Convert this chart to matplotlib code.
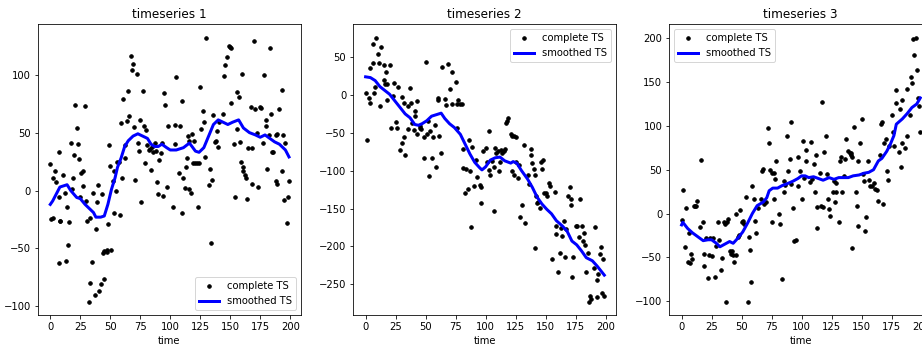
import matplotlib
matplotlib.use("Agg")
import matplotlib.pyplot as plt

# timeseries 1: raw points
t1 = [0, 2, 1, 2, 4, 5, 7, 7, 7, 8, 8, 11, 12, 13, 14, 15, 16, 17, 18, 19,
      20, 21, 22, 23, 24, 25, 26, 27, 27, 29, 30, 31, 33, 33, 32, 35, 36, 37, 38, 39,
      40, 41, 42, 43, 44, 45, 45, 47, 47, 48, 49, 50, 51, 52, 53, 53, 55, 56, 57, 58,
      59, 60, 61, 62, 62, 64, 65, 66, 67, 68, 69, 70, 71, 72, 73, 74, 75, 76, 77, 78,
      79, 80, 81, 82, 83, 84, 85, 86, 87, 88, 89, 90, 91, 92, 93, 94, 95, 96, 97, 98,
      102, 104, 104, 105, 107, 108, 110, 110, 111, 112, 113, 114, 115, 116, 116, 117, 118, 119, 120, 121,
      122, 123, 124, 125, 126, 127, 128, 129, 130, 132, 133, 134, 135, 136, 137, 138, 139, 140, 141, 144,
      145, 146, 147, 149, 150, 151, 151, 153, 154, 156, 156, 157, 158, 159, 160, 161, 161, 162, 163, 164,
      165, 167, 168, 168, 170, 171, 172, 173, 175, 176, 177, 178, 180, 180, 181, 182, 183, 184, 185, 186,
      188, 189, 188, 189, 191, 193, 193, 194, 195, 196, 197, 198, 199]
y1 = [23, 11, -25, -24, 17, 7, 33, -63, -6, -26, -26, 13, -2, -61, -14, -47, -27, 41, 1, 11,
      31, 74, 54, 40, 27, -6, 15, 17, 4, 73, -9, -26, -24, -80, -96, -62, -2, -90, -33, -10,
      5, -87, -81, -3, -54, -52, -76, -53, -51, -29, 39, 21, -51, 8, 17, -19, 0, 25, 25, -21,
      58, 11, 79, 28, 39, 60, 86, 64, 116, 104, 109, 55, 9, 101, 41, 34, 61, -10, 86, 56,
      24, 52, 39, 35, 36, 18, 38, 33, 41, 34, 7, -3, 26, 32, 41, -5, 84, 74, 3, 56,
      -14, 57, 40, 98, 15, 56, 77, -19, 11, 2, 20, 28, 47, 43, 1, -2, 49, 24, 43, 24,
      24, -14, 24, 89, 53, 69, 59, 29, 132, 5, 19, -45, 9, 65, 42, 43, 51, 38, 59, 66,
      99, 108, 115, 125, 124, 123, 76, 40, -6, 85, 53, 81, 42, 25, 101, 20, 17, 13, 11, -7,
      37, 72, 37, 6, 129, 70, 50, 3, 72, 71, 41, 100, 61, 56, 19, 48, 123, 66, 33, 33,
      8, 6, 48, 49, 70, 17, 87, 48, -8, 41, -28, -6, 8]
s1_t = [0, 2, 5, 8, 11, 14, 17, 22, 25, 29, 33, 36, 38, 42, 45, 48, 51, 54, 56, 59,
        62, 65, 69, 73, 77, 81, 84, 87, 90, 93, 97, 100, 105, 111, 116, 121, 124, 128, 132, 136,
        140, 144, 148, 152, 157, 161, 166, 171, 175, 179, 183, 187, 191, 196, 199]
s1_v = [-12, -9, -3, 3, 4, 5, 0, -6, -7, -12, -16, -19, -23, -23, -22, -12, 1, 11, 20, 28,
        38, 43, 47, 49, 47, 45, 40, 38, 38, 40, 37, 35, 35, 37, 41, 34, 33, 37, 47, 57,
        61, 59, 57, 59, 61, 54, 50, 48, 46, 48, 45, 42, 40, 35, 29]

# timeseries 2
t2 = [0, 1, 3, 4, 4, 6, 6, 7, 8, 9, 10, 11, 12, 13, 15, 15, 17, 16, 18, 18,
      20, 21, 23, 24, 25, 26, 27, 29, 30, 30, 32, 32, 33, 35, 35, 37, 38, 39, 40, 41,
      41, 43, 43, 45, 45, 46, 49, 49, 50, 51, 52, 53, 54, 55, 56, 58, 59, 60, 60, 61,
      63, 64, 66, 67, 69, 70, 72, 72, 75, 76, 76, 77, 79, 80, 81, 81, 83, 84, 87, 85,
      86, 88, 89, 90, 92, 93, 95, 96, 96, 98,
      100, 101, 103, 103, 104, 105, 107, 107, 108, 109, 110, 111, 112, 113, 114, 115, 116, 117, 118, 119,
      121, 122, 124, 125, 122, 124, 125, 127, 128, 129, 130, 132, 133, 135, 136, 138, 138, 139, 140, 141,
      141, 142, 143, 144, 145, 146, 147, 148, 149, 150, 151, 153, 154, 155, 158, 159, 159, 160, 162, 163,
      164, 165, 166, 167, 169, 170, 171, 171, 172, 173, 175, 176, 178, 179, 180, 181, 182, 183, 184, 185,
      186, 187, 188, 190, 191, 193, 193, 194, 195, 196, 197, 198, 199]
y2 = [3, -60, -4, 36, -10, 67, 42, 2, 10, 75, 54, 42, -14, 63, 40, 20, 31, 15, 15, -7,
      39, -44, -1, 16, -36, -44, 10, -73, -3, -64, -10, -56, -79, -15, -45, 9, -10, -37, -46, -21,
      -28, -51, -8, -41, -43, -45, -83, -56, 43, -52, -34, -107, -48, -83, -55, -39, -95, -7, -4, -54,
      -76, 37, -5, -13, 41, 8, -12, 31, 17, -44, -12, -7, -12, -12, -71, -97, -130, -98, -100, -124,
      -60, -174, -69, -120, -86, -108, -119, -122, -143, -74,
      -70, -88, -48, -99, -106, -87, -95, -153, -70, -77, -74, -101, -88, -73, -77, -74, -72, -37, -34, -30,
      -52, -54, -54, -55, -101, -106, -88, -110, -93, -161, -145, -66, -169, -106, -118, -79, -71, -90, -98, -106,
      -202, -134, -143, -142, -149, -88, -98, -86, -130, -129, -134, -116, -120, -217, -128, -184, -173, -234, -209, -176,
      -186, -167, -214, -177, -134, -122, -146, -137, -240, -214, -173, -173, -187, -137, -173, -193, -182, -198, -234, -209,
      -274, -265, -270, -229, -174, -245, -267, -236, -210, -201, -262, -217, -265]
s2_t = [0, 4, 8, 12, 16, 20, 24, 29, 33, 37, 41, 44, 47, 51, 55, 59, 63, 66, 70, 74,
        79, 83, 87, 91, 95, 97, 100, 104, 108, 112, 116, 121, 123, 126, 130, 135, 139, 143, 147, 151,
        155, 159, 164, 168, 172, 176, 180, 184, 189, 193, 197, 199]
s2_v = [24, 23, 19, 11, 6, 1, -7, -17, -25, -30, -39, -40, -38, -34, -28, -26, -24, -31, -38, -43,
        -52, -65, -78, -89, -96, -99, -95, -86, -83, -82, -87, -90, -88, -90, -100, -111, -122, -135, -144, -151,
        -157, -166, -173, -180, -193, -198, -206, -215, -219, -226, -234, -238]

# timeseries 3
t3 = [0, 1, 3, 4, 5, 6, 7, 8, 9, 10, 11, 12, 13, 15, 16, 18, 19, 19, 20, 22,
      23, 24, 25, 26, 28, 29, 30, 31, 33, 34, 35, 36, 37, 38, 39, 40, 41, 42, 43, 44,
      45, 45, 47, 48, 49, 50, 51, 52, 54, 55, 56, 57, 58, 59, 60, 61, 62, 64, 66, 67,
      68, 69, 70, 72, 73, 74, 75, 75, 77, 77, 78, 79, 81, 82, 84, 85, 85, 86, 88, 89,
      90, 91, 91, 93, 94, 95, 97, 97, 99,
      100, 101, 102, 104, 104, 107, 108, 109, 110, 111, 112, 113, 113, 115, 116, 117, 118, 119, 120, 121,
      122, 123, 124, 126, 127, 128, 129, 129, 131, 132, 133, 134, 135, 136, 137, 139, 140, 141, 141, 142,
      142, 144, 145, 146, 147, 147, 149, 150, 151, 152, 153, 154, 155, 156, 157, 159, 160, 161, 163, 164,
      165, 166, 167, 168, 169, 170, 171, 172, 173, 175, 176, 177, 179, 179, 181, 182, 183, 184, 184, 186,
      188, 188, 190, 191, 192, 193, 194, 195, 196, 197, 198, 199]
y3 = [-7, 27, -38, 6, -55, -22, -56, -46, -52, 8, 9, 8, 14, -15, 61, -10, -46, -60, -28, -74,
      -47, -28, -49, -28, -72, -37, -10, -30, -65, -51, -10, -12, -101, -10, -6, -43, -46, -43, -47, -55,
      -47, -1, -27, -24, 4, -10, -9, -12, 19, -101, -27, -42, -78, 31, 16, -8, -22, 6, 17, 49,
      51, 11, 13, 98, 81, 50, 46, -10, 46, 17, 39, 60, -1, -12, -75, 25, 37, 32, 89, 49,
      62, 105, 34, 6, -31, -30, 31, 65, 49,
      16, 83, 41, 60, 73, 36, 82, 39, 57, 24, 67, 7, -16, 46, 8, 127, 7, 70, 88, 45,
      17, 5, -3, 24, 37, 13, 35, 24, -10, 60, 65, 24, 43, 62, 85, 71, 69, 69, 67, -39,
      64, 99, 24, 9, 60, -14, 81, 108, 45, 37, -20, -4, 60, 38, 31, 31, 35, 28, 27, 14,
      67, 102, 104, 11, 81, 85, 49, 38, 77, 112, 93, 77, 126, 141, 70, 119, 53, 81, 130, 75,
      142, 89, 112, 156, 149, 199, 181, 200, 164, 132, 123, 93]
s3_t = [0, 1, 5, 9, 13, 18, 22, 25, 29, 32, 36, 40, 43, 47, 51, 55, 59, 63, 68, 71,
        73, 76, 80, 84, 88, 93, 97, 100, 103, 106, 110, 114, 118, 123, 127, 131, 135, 139, 143, 148,
        152, 156, 160, 164, 167, 171, 174, 177, 179, 184, 188, 192, 196, 199]
s3_v = [-13, -10, -17, -22, -26, -31, -30, -30, -34, -38, -35, -32, -34, -28, -21, -11, 0, 9, 13, 18,
        26, 29, 29, 32, 34, 37, 40, 43, 43, 41, 42, 40, 38, 41, 39, 41, 41, 41, 43, 44,
        46, 47, 50, 60, 63, 71, 79, 89, 102, 108, 114, 121, 125, 132]

titles = ["timeseries 1", "timeseries 2", "timeseries 3"]
series = [(t1, y1, s1_t, s1_v), (t2, y2, s2_t, s2_v), (t3, y3, s3_t, s3_v)]
ylims = [(-107.5, 143.8), (-290.7, 93.8), (-115.9, 216.4)]
legend_locs = ["lower right", "upper right", "upper left"]
lefts = [38, 353.3, 669.3]

W, H = 922, 350
fig = plt.figure(figsize=(W / 72, H / 72), dpi=72)

for i in range(3):
    ax = fig.add_axes([lefts[i] / W, 35 / H, 263 / W, 291 / H])
    t, y, st, sv = series[i]
    ax.plot(t, y, 'k.', markersize=7, label='complete TS')
    ax.plot(st, sv, 'b-', linewidth=3, label='smoothed TS')
    ax.set_xlim(-10.25, 209)
    ax.set_ylim(*ylims[i])
    ax.set_xticks([0, 25, 50, 75, 100, 125, 150, 175, 200])
    ax.set_title(titles[i])
    ax.set_xlabel('time')
    ax.legend(loc=legend_locs[i])

fig.savefig('out.png', dpi=72)
